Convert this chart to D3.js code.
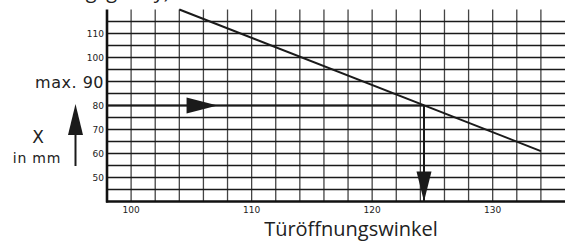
<!DOCTYPE html>
<html>
<head>
<meta charset="utf-8">
<script src="https://cdnjs.cloudflare.com/ajax/libs/d3/7.8.5/d3.min.js"></script>
<style>
  body { margin: 0; background: #fff; }
  svg { display: block; }
</style>
</head>
<body>
<div id="viz"></div>
<script>
// Türöffnungswinkel vs. X in mm
const xTicks = [100, 110, 120, 130];
const yTicks = [50, 60, 70, 80, 100, 110];
const maxLabel = 90;
const lineAngles = [104, 134];
const lineValues = [120, 61];
const readValue = 80;
const readAngle = 124.3;

const width = 566, height = 241;

const svg = d3.select("#viz").append("svg")
    .attr("width", width)
    .attr("height", height);

const x = d3.scaleLinear().domain([98, 136]).range([107, 565]);
const y = d3.scaleLinear().domain([40, 120]).range([201.5, 9.5]);

// cut-off heading at the very top
svg.append("text")
    .attr("x", 20)
    .attr("y", -2)
    .attr("font-family", "Open Sans")
    .attr("font-size", "20px")
    .attr("fill", "#222")
    .text("Öffnungsgrad y)");

// grid
const grid = svg.append("g");
grid.selectAll("line.v")
    .data(d3.range(100, 135, 2))
    .enter()
    .append("line")
    .attr("x1", d => x(d))
    .attr("x2", d => x(d))
    .attr("y1", y(120))
    .attr("y2", y(40))
    .attr("stroke", "#444")
    .attr("stroke-width", 1.3);

grid.selectAll("line.h")
    .data(d3.range(45, 120, 5))
    .enter()
    .append("line")
    .attr("x1", x(98))
    .attr("x2", x(136))
    .attr("y1", d => y(d))
    .attr("y2", d => y(d))
    .attr("stroke", "#1a1a1a")
    .attr("stroke-width", 1.3);

// axes lines
svg.append("line")
    .attr("x1", x(98)).attr("x2", x(98))
    .attr("y1", y(120)).attr("y2", y(40) + 1)
    .attr("stroke", "#111").attr("stroke-width", 2.6);
svg.append("line")
    .attr("x1", x(98) - 1).attr("x2", x(136))
    .attr("y1", y(40)).attr("y2", y(40))
    .attr("stroke", "#111").attr("stroke-width", 2.6);

// tick labels
svg.selectAll("text.xt")
    .data(xTicks)
    .enter()
    .append("text")
    .attr("x", d => x(d))
    .attr("y", 213)
    .attr("text-anchor", "middle")
    .attr("font-family", "DejaVu Sans")
    .attr("font-size", "9px")
    .attr("fill", "#222")
    .text(d => d);

svg.selectAll("text.yt")
    .data(yTicks)
    .enter()
    .append("text")
    .attr("x", 104)
    .attr("y", d => y(d) + 3.5)
    .attr("text-anchor", "end")
    .attr("font-family", "DejaVu Sans")
    .attr("font-size", "9px")
    .attr("fill", "#222")
    .text(d => d);

svg.append("text")
    .attr("x", 104)
    .attr("y", y(maxLabel) + 6)
    .attr("text-anchor", "end")
    .attr("font-family", "DejaVu Sans")
    .attr("font-size", "16px")
    .attr("letter-spacing", "0.5px")
    .attr("fill", "#222")
    .text(`max. ${maxLabel}`);

// main line
const line = d3.line().x(d => x(d[0])).y(d => y(d[1]));
svg.append("path")
    .attr("d", line(d3.zip(lineAngles, lineValues)))
    .attr("fill", "none")
    .attr("stroke", "#1a1a1a")
    .attr("stroke-width", 2);

// reading path: across at 80, down at the angle
svg.append("line")
    .attr("x1", x(98)).attr("x2", x(readAngle))
    .attr("y1", y(readValue)).attr("y2", y(readValue))
    .attr("stroke", "#1a1a1a").attr("stroke-width", 2);
svg.append("line")
    .attr("x1", x(readAngle)).attr("x2", x(readAngle))
    .attr("y1", y(readValue)).attr("y2", y(40))
    .attr("stroke", "#1a1a1a").attr("stroke-width", 2);

// arrow heads
const ax = x(104.6), ay = y(readValue);
svg.append("path")
    .attr("d", `M${ax},${ay - 8}L${ax + 31},${ay}L${ax},${ay + 8}Z`)
    .attr("fill", "#1a1a1a");
const dx = x(readAngle), dy = y(40);
svg.append("path")
    .attr("d", `M${dx - 7.5},${dy - 30}L${dx + 7.5},${dy - 30}L${dx},${dy}Z`)
    .attr("fill", "#1a1a1a");

// y-axis label with up arrow
svg.append("line")
    .attr("x1", 75.5).attr("x2", 75.5)
    .attr("y1", 130).attr("y2", 166)
    .attr("stroke", "#1a1a1a").attr("stroke-width", 2);
svg.append("path")
    .attr("d", "M75.5,104L83,135L68,135Z")
    .attr("fill", "#1a1a1a");
svg.append("text")
    .attr("x", 38)
    .attr("y", 143)
    .attr("text-anchor", "middle")
    .attr("font-family", "DejaVu Sans")
    .attr("font-size", "17px")
    .attr("fill", "#222")
    .text("X");
svg.append("text")
    .attr("x", 37)
    .attr("y", 163)
    .attr("text-anchor", "middle")
    .attr("font-family", "DejaVu Sans")
    .attr("font-size", "14px")
    .attr("letter-spacing", "0.8px")
    .attr("fill", "#222")
    .text("in mm");

// x-axis title
svg.append("text")
    .attr("x", 351)
    .attr("y", 236)
    .attr("text-anchor", "middle")
    .attr("font-family", "Open Sans")
    .attr("font-size", "20px")
    .attr("fill", "#222")
    .text("Türöffnungswinkel");
</script>
</body>
</html>
